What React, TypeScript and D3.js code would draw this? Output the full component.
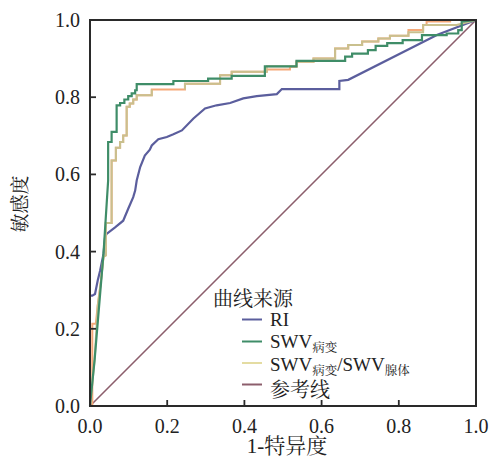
import React from 'react';
import * as d3 from 'd3';

type Pt = [number, number] | null;

// ROC curve points: [1-specificity, sensitivity]
const riCurve: Pt[] = [
  [0, 0.286], [0.006, 0.286], [0.013, 0.29], [0.02, 0.325], [0.026, 0.35], [0.035, 0.394],
  [0.039, 0.437], [0.043, 0.446], [0.065, 0.463], [0.086, 0.48], [0.099, 0.511], [0.112, 0.541],
  [0.117, 0.558], [0.121, 0.584], [0.13, 0.619], [0.142, 0.649], [0.155, 0.664], [0.16, 0.675],
  [0.177, 0.691], [0.199, 0.697], [0.216, 0.704], [0.238, 0.714], [0.268, 0.745], [0.298, 0.771],
  [0.328, 0.779], [0.363, 0.785], [0.397, 0.797], [0.432, 0.803], [0.484, 0.808], [0.497, 0.821],
  [0.646, 0.821], [0.646, 0.842], [0.669, 0.845], [0.9, 0.962], [1, 1],
];

const swvCurve: Pt[] = [
  [0, 0], [0.012, 0.12], [0.035, 0.395], [0.047, 0.584], [0.047, 0.684], [0.056, 0.684],
  [0.056, 0.71], [0.069, 0.71], [0.069, 0.779], [0.078, 0.779], [0.078, 0.785], [0.089, 0.785],
  [0.089, 0.794], [0.099, 0.794], [0.099, 0.803], [0.108, 0.803], [0.108, 0.81], [0.117, 0.81],
  [0.117, 0.818], [0.121, 0.818], [0.121, 0.834], [0.216, 0.834], [0.216, 0.842], [0.306, 0.842],
  [0.306, 0.848], [0.367, 0.848], [0.367, 0.855], [0.453, 0.855], [0.453, 0.88], [0.535, 0.88],
  [0.535, 0.894], [0.661, 0.894], [0.661, 0.905], [0.679, 0.905], [0.679, 0.913], [0.72, 0.913],
  [0.72, 0.922], [0.74, 0.922], [0.74, 0.933], [0.77, 0.933], [0.77, 0.94], [0.81, 0.94],
  [0.81, 0.948], [0.86, 0.948], [0.86, 0.961], [0.924, 0.961], [0.924, 0.965], [0.954, 0.965],
  [0.954, 0.974], [0.963, 0.974], [0.963, 0.996], [1, 1],
];

// orange curve under the ratio curve, visible where the two part
const orangeCurve: Pt[] = [
  [0, 0], [0.006, 0], [0.006, 0.213], [0.015, 0.213], [0.02, 0.26], [0.028, 0.32], [0.035, 0.387],
  [0.041, 0.39], [0.041, 0.474], [0.056, 0.474], [0.056, 0.636], [0.067, 0.636], [0.067, 0.669],
  [0.078, 0.669], [0.078, 0.684], [0.086, 0.684], [0.086, 0.701], [0.095, 0.701], [0.095, 0.775],
  [0.103, 0.775], [0.103, 0.784], [0.112, 0.784], [0.112, 0.794], [0.121, 0.794], [0.121, 0.805],
  [0.16, 0.805], [0.16, 0.82], [0.246, 0.82], [0.246, 0.835], [0.337, 0.835], [0.337, 0.857],
  [0.367, 0.857], [0.367, 0.866], [0.458, 0.866], [0.458, 0.872], [0.518, 0.872], [0.518, 0.879],
  [0.535, 0.879], [0.535, 0.892], [0.579, 0.892], [0.579, 0.9], [0.635, 0.9], [0.635, 0.926],
  [0.669, 0.926], [0.669, 0.935], [0.705, 0.935], [0.705, 0.944], [0.747, 0.944], [0.747, 0.952],
  [0.777, 0.952], [0.777, 0.959], [0.825, 0.959], [0.825, 0.974], [0.863, 0.974], [0.863, 0.987],
  [0.872, 0.987], [0.872, 0.996], [0.933, 0.996], [0.933, 1], [1, 1],
];

const ratioCurve: Pt[] = [
  [0, 0], [0.012, 0.12], [0.02, 0.26], [0.028, 0.32], [0.035, 0.387],
  [0.041, 0.39], [0.041, 0.474], [0.056, 0.474], [0.056, 0.636], [0.067, 0.636], [0.067, 0.669],
  [0.078, 0.669], [0.078, 0.684], [0.086, 0.684], [0.086, 0.701], [0.095, 0.701], [0.095, 0.775],
  [0.103, 0.775], [0.103, 0.784], [0.112, 0.784], [0.112, 0.794], [0.121, 0.794], [0.121, 0.805],
  [0.16, 0.805], [0.16, 0.82], null, [0.246, 0.82], [0.246, 0.835], [0.337, 0.835], [0.337, 0.857],
  [0.367, 0.857], [0.367, 0.866], [0.458, 0.866], [0.458, 0.88], [0.535, 0.88], [0.535, 0.892],
  [0.579, 0.892], [0.579, 0.9], [0.635, 0.9], [0.635, 0.926], [0.669, 0.926], [0.669, 0.935],
  [0.705, 0.935], [0.705, 0.944], [0.747, 0.944], [0.747, 0.952], [0.777, 0.952], [0.777, 0.959],
  [0.825, 0.959], [0.825, 0.968], [0.863, 0.968], [0.863, 0.987], [0.95, 0.987], [1, 1],
];

const refLine: Pt[] = [[0, 0], [1, 1]];

const ticks = [0, 0.2, 0.4, 0.6, 0.8, 1.0];

const legendItems = [
  { key: 'ri', color: '#5b5e9d' },
  { key: 'swv', color: '#3f8d68' },
  { key: 'ratio', color: '#e4dca2' },
  { key: 'ref', color: '#8c5e6c' },
];

const FONT = "'Liberation Serif', 'Times New Roman', 'Noto Serif CJK SC', 'Noto Sans CJK SC', serif";

export default function App() {
  const width = 491;
  const height = 463;
  const x = d3.scaleLinear().domain([0, 1]).range([90, 476]);
  const y = d3.scaleLinear().domain([0, 1]).range([406, 20]);

  const line = d3.line<Pt>()
    .defined(d => d !== null)
    .x(d => x((d as [number, number])[0]))
    .y(d => y((d as [number, number])[1]));

  const curves = [
    { data: refLine, color: '#8c5e6c', w: 1.6 },
    { data: riCurve, color: '#5b5e9d', w: 2.2 },
    { data: orangeCurve, color: '#f5a878', w: 2 },
    { data: ratioCurve, color: '#c9c08e', w: 2 },
    { data: swvCurve, color: '#3f8d68', w: 2.2 },
  ];

  const legendX = 242;
  const legendY = [319.5, 341.5, 363, 384.5];
  const textX = 270;

  return (
    <svg width={width} height={height} style={{ position: 'absolute', left: 0, top: 0 }} fontFamily={FONT}>
      <rect width={width} height={height} fill="#fff" />

      {curves.map((c, i) => (
        <path key={i} d={line(c.data) || ''} fill="none" stroke={c.color} strokeWidth={c.w} strokeLinejoin="miter" />
      ))}

      {/* frame */}
      <rect x={x(0)} y={y(1)} width={x(1) - x(0)} height={y(0) - y(1)} fill="none" stroke="#2a2a2a" strokeWidth={2} />

      {/* y ticks */}
      {ticks.map(t => (
        <g key={'y' + t}>
          <line x1={x(0)} x2={x(0) + 6} y1={y(t)} y2={y(t)} stroke="#2a2a2a" strokeWidth={1.8} />
          <text x={80} y={y(t)} dy="0.35em" textAnchor="end" fontSize={20} fill="#222">{t.toFixed(1)}</text>
        </g>
      ))}

      {/* x ticks */}
      {ticks.map(t => (
        <g key={'x' + t}>
          <line x1={x(t)} x2={x(t)} y1={y(0)} y2={y(0) - 6} stroke="#2a2a2a" strokeWidth={1.8} />
          <text x={x(t)} y={433} textAnchor="middle" fontSize={20} fill="#222">{t.toFixed(1)}</text>
        </g>
      ))}

      <text x={287} y={453} textAnchor="middle" fontSize={21} fill="#222">1-特异度</text>
      <text transform="translate(27,204) rotate(-90)" textAnchor="middle" fontSize={19} fill="#222">敏感度</text>

      {/* legend */}
      <text x={213} y={306} fontSize={20} fill="#222">曲线来源</text>
      {legendItems.map((d, i) => (
        <line key={d.key} x1={legendX} x2={legendX + 20} y1={legendY[i]} y2={legendY[i]} stroke={d.color} strokeWidth={2} />
      ))}
      <text x={textX} y={legendY[0] + 6.5} fontSize={19} fill="#222">RI</text>
      <text x={textX} y={legendY[1] + 6.5} fontSize={19} fill="#222">
        SWV<tspan fontSize={12.5} dy={4}>病变</tspan>
      </text>
      <text x={textX} y={legendY[2] + 7.5} fontSize={19} fill="#222">
        SWV<tspan fontSize={12.5} dy={4}>病变</tspan>
        <tspan dy={-4}>/SWV</tspan>
        <tspan fontSize={12.5} dy={4}>腺体</tspan>
      </text>
      <text x={textX} y={legendY[3] + 12} fontSize={20} fill="#222">参考线</text>
    </svg>
  );
}
